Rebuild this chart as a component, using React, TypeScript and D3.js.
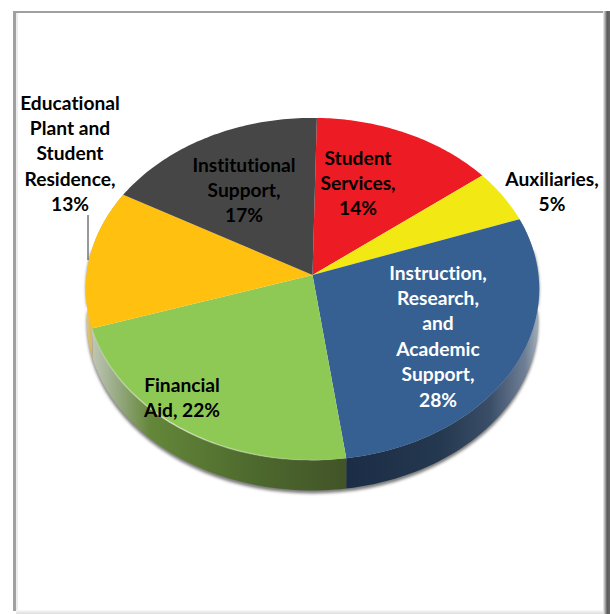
import React from "react";
import * as d3 from "d3";

const WIDTH = 610;
const HEIGHT = 614;

const categories = [
  "Student Services",
  "Auxiliaries",
  "Instruction, Research, and Academic Support",
  "Financial Aid",
  "Educational Plant and Student Residence",
  "Institutional Support",
];
const shares = [14, 5, 28, 22, 13, 17];
const topColors = ["#ed1c24", "#f2e914", "#376092", "#8fc955", "#ffc010", "#464646"];
const labelLines = [
  ["Student", "Services,", "14%"],
  ["Auxiliaries,", "5%"],
  ["Instruction,", "Research,", "and", "Academic", "Support,", "28%"],
  ["Financial", "Aid, 22%"],
  ["Educational", "Plant and", "Student", "Residence,", "13%"],
  ["Institutional", "Support,", "17%"],
];
const labelInk = ["#000", "#000", "#fff", "#000", "#000", "#000"];
const labelCentres: [number, number][] = [
  [358, 156.5],
  [552, 177.5],
  [438, 271.5],
  [182, 384],
  [70, 101.5],
  [244, 163.5],
];
// Side wall shading, left to right, for the slices that face the viewer.
const wallStops: Record<number, [number, string][]> = {
  2: [[345, "#1b2d46"], [440, "#24384f"], [490, "#3b4e68"], [525, "#6e7f95"], [539, "#a4b0bc"]],
  3: [[88, "#c6cabd"], [110, "#a3b293"], [150, "#648739"], [250, "#4e6a2e"], [345, "#425428"]],
  4: [[86, "#e2c878"], [96, "#c9ad5c"]],
};

// Tilted disc drawn with a slight perspective: the hub sits above the middle of the outline.
const hub = { x: 312.5, y: 275 };
const spreadX = 226;
const spreadY = 170;
const perspective = 0.082;
const wallDepth = 31;
const startAngle = (1.2 * Math.PI) / 180;

const project = (a: number, depth = 0): [number, number] => {
  const u = Math.sin(a);
  const v = -Math.cos(a);
  const w = 1 - perspective * v;
  const shrink = depth ? 0.996 : 1;
  return [hub.x + (spreadX * shrink * u) / w, hub.y + (spreadY * shrink * v) / w + depth];
};

const rim = (a0: number, a1: number, depth = 0) =>
  d3.range(0, 61).map((i) => project(a0 + ((a1 - a0) * i) / 60, depth));

const arcs = d3
  .pie<number>()
  .sort(null)
  .startAngle(startAngle)
  .endAngle(startAngle + Math.PI * 2)(shares);

const line = d3.line();

export default function App() {
  const frontRim = rim(Math.PI * 0.45, Math.PI * 1.55, wallDepth);
  const frontTop = rim(Math.PI * 0.45, Math.PI * 1.55);
  return (
    <svg
      width={WIDTH}
      height={HEIGHT}
      viewBox={`0 0 ${WIDTH} ${HEIGHT}`}
      style={{ position: "absolute", left: 0, top: 0, background: "#fff", fontVariantLigatures: "none" }}
      fontFamily="Lato, Carlito, sans-serif"
      fontWeight={700}
    >
      <defs>
        <filter id="soft" x="-10%" y="-10%" width="120%" height="120%">
          <feGaussianBlur stdDeviation="1.8" />
        </filter>
        <linearGradient id="frameRight" x1="0" x2="1" y1="0" y2="0">
          <stop offset="0" stopColor="#f2f2f2" />
          <stop offset="0.3" stopColor="#a8a8a8" />
          <stop offset="0.6" stopColor="#5a5a5a" />
          <stop offset="1" stopColor="#6a6a6a" />
        </linearGradient>
        <linearGradient id="frameBottom" x1="0" x2="0" y1="0" y2="1">
          <stop offset="0" stopColor="#fafafa" />
          <stop offset="1" stopColor="#dcdcdc" />
        </linearGradient>
        <linearGradient id="rimLight" gradientUnits="userSpaceOnUse" x1={90} x2={345} y1={0} y2={0}>
          <stop offset="0" stopColor="#fff" stopOpacity={0.15} />
          <stop offset="0.3" stopColor="#fff" stopOpacity={0.6} />
          <stop offset="0.75" stopColor="#fff" stopOpacity={0.2} />
          <stop offset="1" stopColor="#fff" stopOpacity={0} />
        </linearGradient>
        {Object.entries(wallStops).map(([index, stops]) => {
          const x0 = stops[0][0];
          const x1 = stops[stops.length - 1][0];
          return (
            <linearGradient key={index} id={`wall${index}`} gradientUnits="userSpaceOnUse" x1={x0} x2={x1} y1={0} y2={0}>
              {stops.map(([x, c]) => (
                <stop key={x} offset={(x - x0) / (x1 - x0)} stopColor={c} />
              ))}
            </linearGradient>
          );
        })}
      </defs>

      {/* Picture frame */}
      <rect x={13} y={11} width={3} height={600} fill="#a0a0a0" />
      <rect x={16} y={13} width={2} height={597} fill="#ececec" />
      <rect x={13} y={11} width={592} height={2} fill="#a0a0a0" />
      <rect x={603} y={11} width={7} height={603} fill="url(#frameRight)" />
      <rect x={16} y={610} width={587} height={4} fill="url(#frameBottom)" />

      {/* Ground shadow under the front of the disc */}
      <path
        d={(line([...frontRim.map(([x, y]) => [x, y + 3] as [number, number]), ...frontTop.slice().reverse()]) ?? "") + "Z"}
        fill="#7c7c7c"
        filter="url(#soft)"
      />

      {/* Side wall of each slice that faces the viewer */}
      {arcs.map((d, i) =>
        wallStops[i] ? (
          <path
            key={categories[i]}
            d={(line([...rim(d.startAngle, d.endAngle), ...rim(d.startAngle, d.endAngle, wallDepth).reverse()]) ?? "") + "Z"}
            fill={`url(#wall${i})`}
          />
        ) : null
      )}

      {/* Top surface */}
      {arcs.map((d, i) => (
        <path
          key={categories[i]}
          d={(line([[hub.x, hub.y], ...rim(d.startAngle, d.endAngle)]) ?? "") + "Z"}
          fill={topColors[i]}
        />
      ))}

      {/* Light catching the front edge of the disc */}
      <path
        d={line(rim(arcs[3].startAngle, arcs[3].endAngle)) ?? ""}
        fill="none"
        stroke="url(#rimLight)"
        strokeWidth={1.4}
      />

      {/* Leader line for the label outside the disc */}
      <line x1={88} x2={88} y1={215} y2={260} stroke="#333" strokeWidth={1} />

      {/* Labels */}
      {labelLines.map((lines, i) => (
        <text
          key={categories[i]}
          textAnchor="middle"
          fontSize={19.2}
          fill={labelInk[i]}
          dominantBaseline="central"
        >
          {lines.map((t, k) => (
            <tspan key={t} x={labelCentres[i][0]} y={labelCentres[i][1] + k * 25.4}>
              {t}
            </tspan>
          ))}
        </text>
      ))}
    </svg>
  );
}
